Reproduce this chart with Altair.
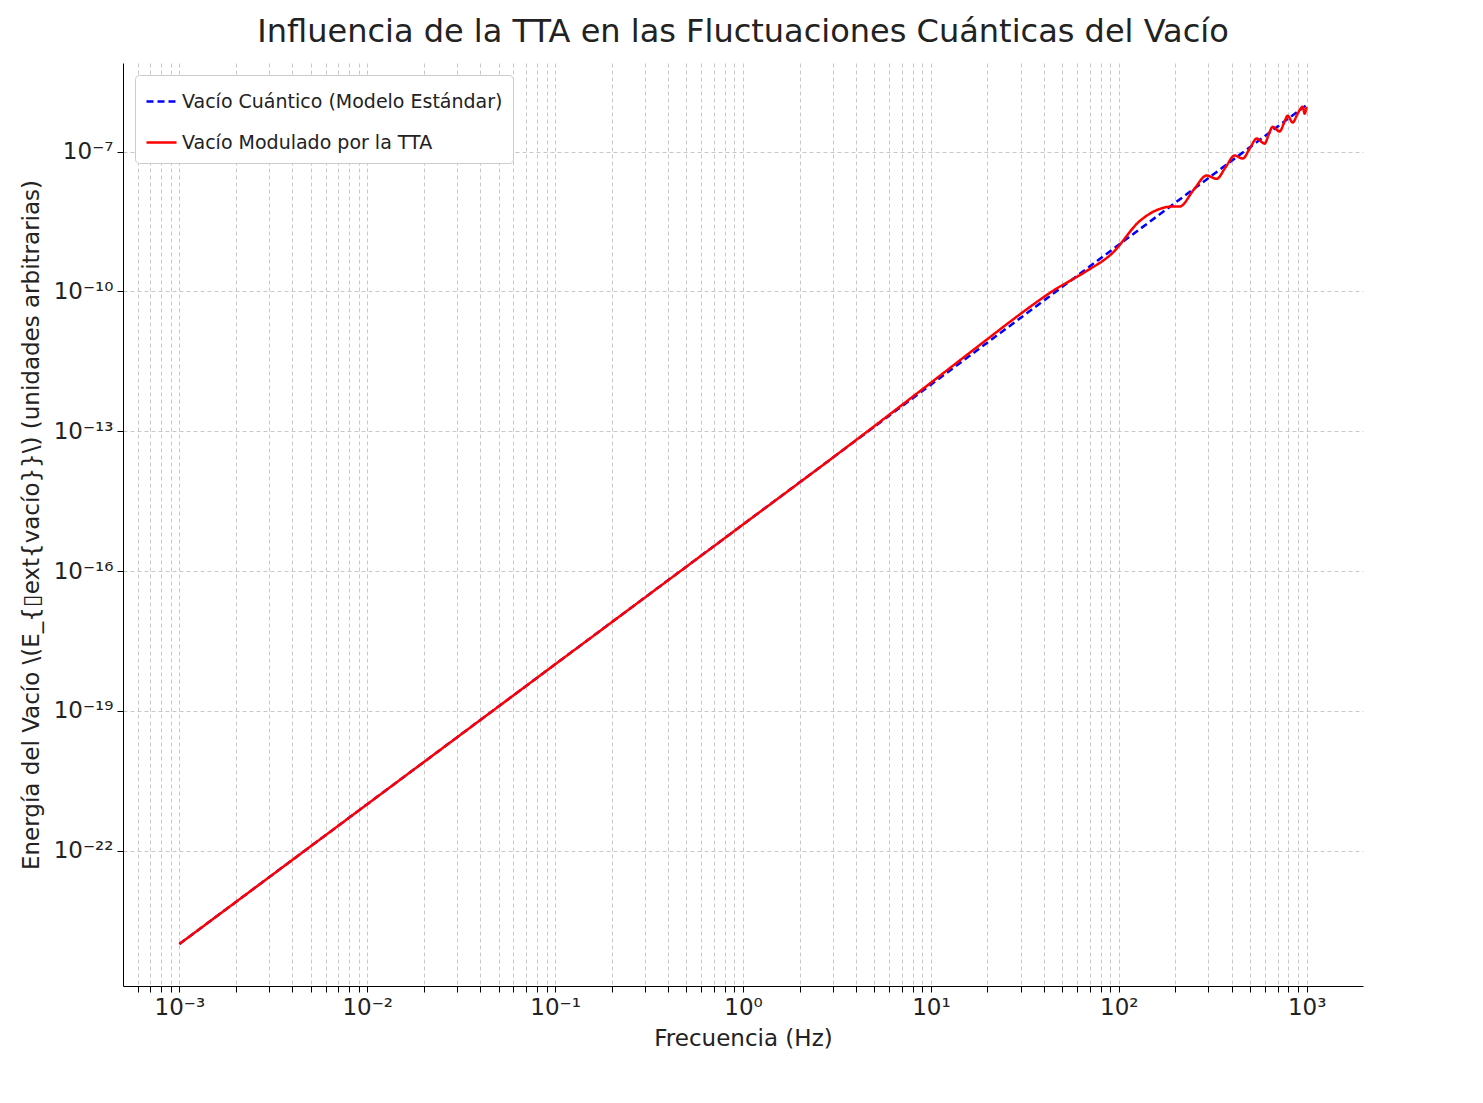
import altair as alt
import pandas as pd

# Standard model (dashed) values
std_f = [0.001, 0.01, 0.1, 1, 10, 100, 1000]
std_e = [1e-24, 1e-21, 1e-18, 1e-15, 1e-12, 1e-9, 1e-6]

# TTA-modulated (red) values
tta_f = [0.001, 0.01, 0.1, 1, 3, 10, 20, 30, 45, 66, 92, 130, 160, 191, 211, 250, 294, 332,
         370, 414, 457, 500, 542, 598, 630, 660, 718, 760, 792, 843, 900, 953, 976, 1000]
tta_e = [1e-24, 1e-21, 1e-18, 1e-15, 2.7e-14, 1.1e-12, 9.5e-12, 3.3e-11, 1.05e-10, 2.6e-10,
         6.5e-10, 3.3e-9, 5.6e-9, 6.6e-9, 6.6e-9, 1.5e-8, 3.06e-8, 2.6e-8,
         4.6e-8, 8.2e-8, 7.1e-8, 1.2e-7, 1.9e-7, 1.48e-7, 2.4e-7, 3.4e-7, 2.7e-7, 4.2e-7,
         5.9e-7, 4.2e-7, 6.8e-7, 9.1e-7, 6.5e-7, 9.0e-7]

s1 = "Vacío Cuántico (Modelo Estándar)"
s2 = "Vacío Modulado por la TTA"
df = pd.concat([
    pd.DataFrame({"f": std_f, "e": std_e, "s": s1}),
    pd.DataFrame({"f": tta_f, "e": tta_e, "s": s2}),
])

sup = {"-": "⁻", "0": "⁰", "1": "¹", "2": "²", "3": "³", "4": "⁴", "5": "⁵",
       "6": "⁶", "7": "⁷", "8": "⁸", "9": "⁹"}
def lab(n):
    return "10" + "".join(sup[c] for c in str(n))

xvals = []
for p in range(-4, 4):
    for m in range(1, 10):
        v = m * 10.0 ** p
        if 10 ** -3.3 <= v <= 10 ** 3.3:
            xvals.append(v)
xexpr = "".join(f"abs(log(datum.value)/LN10 - ({p})) < 0.001 ? '{lab(p)}' : " for p in range(-3, 4)) + "''"
yexps = [-22, -19, -16, -13, -10, -7]
yvals = [10.0 ** p for p in yexps]
yexpr = "".join(f"abs(log(datum.value)/LN10 - ({p})) < 0.001 ? '{lab(p)}' : " for p in yexps) + "''"

ytitle = "Energía del Vacío \\(E_{\u25afext{vacío}}\\) (unidades arbitrarias)"

common = dict(grid=True, gridDash=[4, 3], gridColor="#c8c8c8", tickColor="black",
              domainColor="black", labelFontSize=23, titleFontSize=23, labelColor="#222",
              titleColor="#222", titleFontWeight="normal", labelPadding=4, tickSize=6)

chart = alt.Chart(df).mark_line(strokeWidth=2.5, interpolate="monotone").encode(
    x=alt.X("f:Q", title="Frecuencia (Hz)",
            scale=alt.Scale(type="log", domain=[10 ** -3.3, 10 ** 3.3], nice=False),
            axis=alt.Axis(values=xvals, labelExpr=xexpr, labelFlush=False, titlePadding=8, **common)),
    y=alt.Y("e:Q", title=ytitle,
            scale=alt.Scale(type="log", domain=[10 ** -24.9, 10 ** -5.1], nice=False),
            axis=alt.Axis(values=yvals, labelExpr=yexpr, titlePadding=10, **common)),
    color=alt.Color("s:N", scale=alt.Scale(domain=[s1, s2], range=["#0000ff", "#ff0000"]),
                    legend=alt.Legend(title=None, orient="top-left", symbolType="stroke",
                                      symbolStrokeWidth=2.5, symbolSize=900, labelFontSize=19,
                                      labelLimit=0, labelColor="#222", fillColor="white",
                                      strokeColor="#ccc", padding=10, rowPadding=14, offset=12,
                                      cornerRadius=4)),
    strokeDash=alt.StrokeDash("s:N", scale=alt.Scale(domain=[s1, s2], range=[[7, 4], [1, 0]]),
                              legend=None),
    order=alt.Order("f:Q"),
).properties(
    width=1240, height=923,
    padding={"left": 12, "top": 8, "right": 5, "bottom": 5},
    title=alt.Title("Influencia de la TTA en las Fluctuaciones Cuánticas del Vacío",
                    fontSize=32, fontWeight="normal", color="#222", offset=14, anchor="middle"),
).configure(font="DejaVu Sans").configure_view(stroke=None)

chart.save("out.html", embed_options={"renderer": "svg", "actions": False})
